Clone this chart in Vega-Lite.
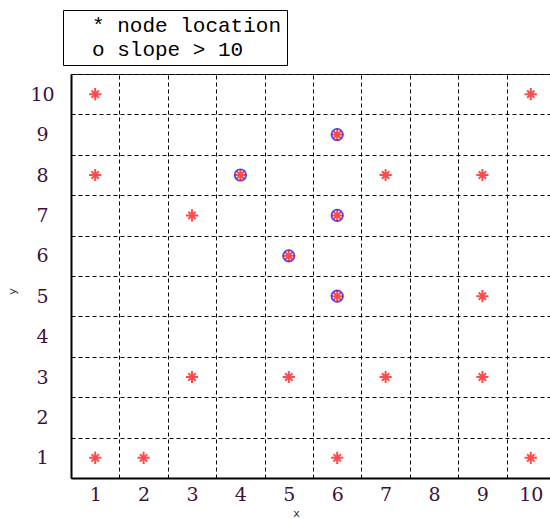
{
  "$schema": "https://vega.github.io/schema/vega-lite/v6.json",
  "width": 484,
  "height": 404,
  "autosize": {"type": "none"},
  "padding": {"left": 71, "top": 74, "right": 0, "bottom": 41},
  "background": "white",
  "config": {"view": {"stroke": "#222", "strokeWidth": 1}},
  "data": {
    "values": [
      {"x": 1, "y": 10, "slope": "no"},
      {"x": 1, "y": 8, "slope": "no"},
      {"x": 1, "y": 1, "slope": "no"},
      {"x": 2, "y": 1, "slope": "no"},
      {"x": 3, "y": 7, "slope": "no"},
      {"x": 3, "y": 3, "slope": "no"},
      {"x": 4, "y": 8, "slope": "yes"},
      {"x": 5, "y": 6, "slope": "yes"},
      {"x": 5, "y": 3, "slope": "no"},
      {"x": 6, "y": 9, "slope": "yes"},
      {"x": 6, "y": 7, "slope": "yes"},
      {"x": 6, "y": 5, "slope": "yes"},
      {"x": 6, "y": 1, "slope": "no"},
      {"x": 7, "y": 8, "slope": "no"},
      {"x": 7, "y": 3, "slope": "no"},
      {"x": 9, "y": 8, "slope": "no"},
      {"x": 9, "y": 5, "slope": "no"},
      {"x": 9, "y": 3, "slope": "no"},
      {"x": 10, "y": 10, "slope": "no"},
      {"x": 10, "y": 1, "slope": "no"}
    ]
  },
  "encoding": {
    "x": {
      "field": "x",
      "type": "ordinal",
      "scale": {"domain": [1, 2, 3, 4, 5, 6, 7, 8, 9, 10], "paddingInner": 0, "paddingOuter": 0},
      "axis": {
        "title": "x",
        "tickBand": "extent",
        "grid": true,
        "gridColor": "#000",
        "gridDash": [4, 3],
        "gridWidth": 1,
        "ticks": false,
        "tickSize": 0,
        "domainColor": "#000",
        "domainWidth": 2,
        "labelAngle": 0,
        "labelFont": "DejaVu Serif",
        "labelFontSize": 19,
        "labelColor": "#3a1040",
        "labelPadding": 7,
        "titleFont": "DejaVu Sans",
        "titleFontSize": 11,
        "titleFontWeight": "normal",
        "titleColor": "#333",
        "titleX": 225,
        "titleY": 29,
        "titleBaseline": "top"
      }
    },
    "y": {
      "field": "y",
      "type": "ordinal",
      "scale": {"domain": [10, 9, 8, 7, 6, 5, 4, 3, 2, 1], "paddingInner": 0, "paddingOuter": 0},
      "axis": {
        "title": "y",
        "tickBand": "extent",
        "grid": true,
        "gridColor": "#000",
        "gridDash": [4, 3],
        "gridWidth": 1,
        "ticks": false,
        "tickSize": 0,
        "domainColor": "#000",
        "domainWidth": 2,
        "labelAlign": "center",
        "labelBaseline": "middle",
        "labelFont": "DejaVu Serif",
        "labelFontSize": 19,
        "labelColor": "#3a1040",
        "labelPadding": 29,
        "titleFont": "DejaVu Sans",
        "titleFontSize": 11,
        "titleFontWeight": "normal",
        "titleColor": "#333",
        "titleX": -54,
        "titleY": 217
      }
    }
  },
  "layer": [
    {
      "transform": [{"filter": "datum.slope == 'yes'"}],
      "mark": {"type": "point", "shape": "circle", "filled": false, "size": 130, "strokeWidth": 1.8},
      "encoding": {
        "color": {
          "datum": "slope > 10",
          "scale": {"domain": ["node location", "slope > 10"], "range": ["#ff0000", "#0000ff"]},
          "legend": {
            "title": null,
            "orient": "none",
            "legendX": -8,
            "legendY": -64,
            "strokeColor": "#000",
            "fillColor": "white",
            "padding": 5,
            "symbolOpacity": 0,
            "symbolSize": 36,
            "labelOffset": 3,
            "labelLimit": 400,
            "labelFont": "Liberation Mono",
            "labelFontSize": 21,
            "labelColor": "#000",
            "rowPadding": 2,
            "labelExpr": "datum.label == 'node location' ? '* node location' : 'o slope > 10'"
          }
        }
      }
    },
    {
      "mark": {
        "type": "point",
        "shape": "M-1,0L1,0M0,-1L0,1M-0.6,-0.6L0.6,0.6M-0.6,0.6L0.6,-0.6",
        "filled": false,
        "size": 150,
        "strokeWidth": 2
      },
      "encoding": {"color": {"datum": "node location"}}
    }
  ]
}
